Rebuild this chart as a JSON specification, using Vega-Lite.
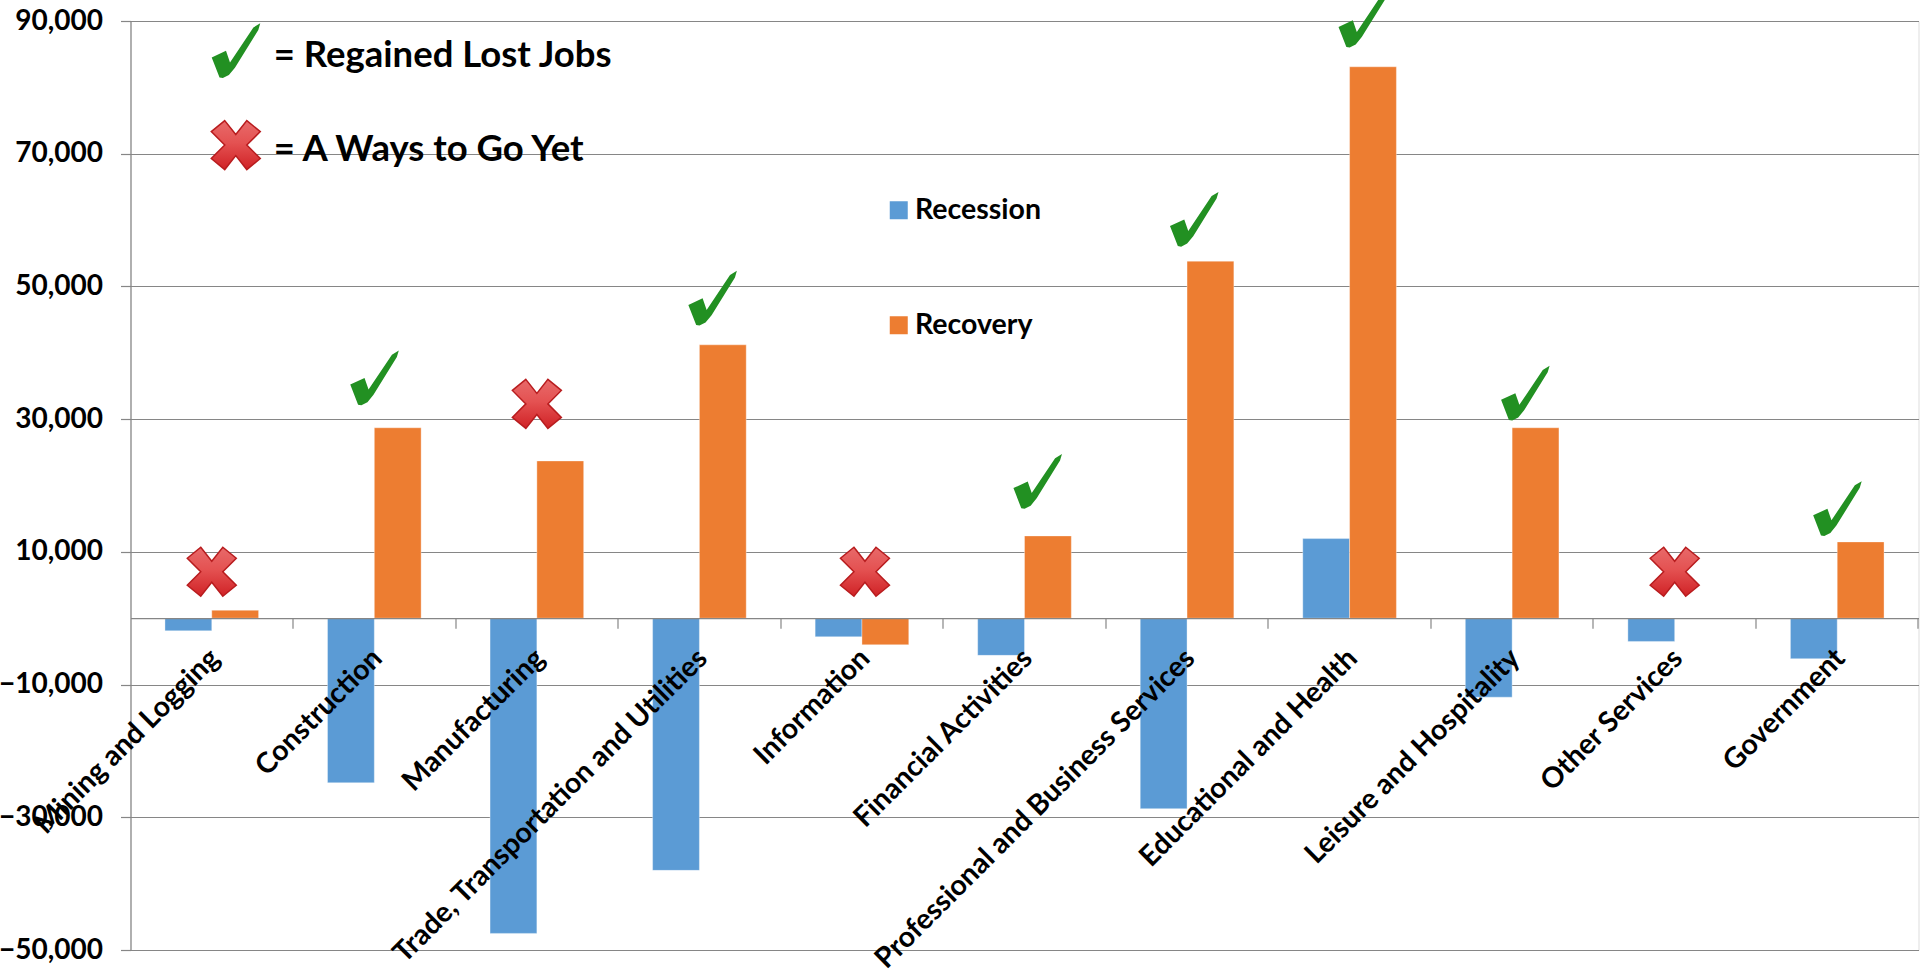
{
"$schema":"https://vega.github.io/schema/vega-lite/v6.json",
"width":1788,"height":929,
"autosize":{"type":"none"},
"padding":{"left":130.5,"top":21,"right":11.5,"bottom":23},
"background":"white",
"datasets":{
"bars":[
{"category":"Mining and Logging","series":"Recession","jobs":-1900},{"category":"Mining and Logging","series":"Recovery","jobs":1200},
{"category":"Construction","series":"Recession","jobs":-24800},{"category":"Construction","series":"Recovery","jobs":28700},
{"category":"Manufacturing","series":"Recession","jobs":-47500},{"category":"Manufacturing","series":"Recovery","jobs":23700},
{"category":"Trade, Transportation and Utilities","series":"Recession","jobs":-38000},{"category":"Trade, Transportation and Utilities","series":"Recovery","jobs":41200},
{"category":"Information","series":"Recession","jobs":-2800},{"category":"Information","series":"Recovery","jobs":-4000},
{"category":"Financial Activities","series":"Recession","jobs":-5600},{"category":"Financial Activities","series":"Recovery","jobs":12400},
{"category":"Professional and Business Services","series":"Recession","jobs":-28700},{"category":"Professional and Business Services","series":"Recovery","jobs":53800},
{"category":"Educational and Health","series":"Recession","jobs":12000},{"category":"Educational and Health","series":"Recovery","jobs":83100},
{"category":"Leisure and Hospitality","series":"Recession","jobs":-11900},{"category":"Leisure and Hospitality","series":"Recovery","jobs":28700},
{"category":"Other Services","series":"Recession","jobs":-3500},{"category":"Other Services","series":"Recovery","jobs":0},
{"category":"Government","series":"Recession","jobs":-6100},{"category":"Government","series":"Recovery","jobs":11500}
],
"markers":[
{"category":"Mining and Logging","level":7000,"status":"behind"},
{"category":"Construction","level":36200,"status":"regained"},
{"category":"Manufacturing","level":32300,"status":"behind"},
{"category":"Trade, Transportation and Utilities","level":48200,"status":"regained"},
{"category":"Information","level":7000,"status":"behind"},
{"category":"Financial Activities","level":20600,"status":"regained"},
{"category":"Professional and Business Services","level":60100,"status":"regained"},
{"category":"Educational and Health","level":90100,"status":"regained"},
{"category":"Leisure and Hospitality","level":33900,"status":"regained"},
{"category":"Other Services","level":7000,"status":"behind"},
{"category":"Government","level":16500,"status":"regained"}
],
"key":[
{"category":"Mining and Logging","level":85500,"status":"regained","label":"= Regained Lost Jobs"},
{"category":"Mining and Logging","level":71300,"status":"behind","label":"= A Ways to Go Yet"}
]
},
"encoding":{
"x":{"field":"category","type":"nominal","sort":null,"title":null,
"scale":{"domain":["Mining and Logging","Construction","Manufacturing","Trade, Transportation and Utilities","Information","Financial Activities","Professional and Business Services","Educational and Health","Leisure and Hospitality","Other Services","Government"],"paddingInner":0.424,"paddingOuter":0.212},
"axis":{"orient":"bottom","offset":-331.8,"zindex":1,"bandPosition":1.368,"tickSize":10,"tickColor":"#868686","tickWidth":1.2,"domainColor":"#868686","domainWidth":1.2,"labelAngle":-45,"labelAlign":"right","labelBaseline":"middle","labelPadding":25,"labelOffset":3,"labelFont":"Lato","labelFontWeight":"bold","labelFontSize":28.5,"labelColor":"#000000","labelLimit":1000,"labelOverlap":false,"labelBound":false,"labelFlush":false}},
"y":{"type":"quantitative","title":null,
"scale":{"domain":[-50000,90000],"nice":false,"zero":false},
"axis":{"values":[-50000,-30000,-10000,10000,30000,50000,70000,90000],"labelExpr":"format(datum.value, ',')","grid":true,"gridColor":"#868686","gridWidth":1.2,"domainColor":"#868686","domainWidth":1.2,"tickColor":"#868686","tickWidth":1.2,"tickSize":10,"labelPadding":18,"labelFont":"Lato","labelFontWeight":"bold","labelFontSize":28,"labelColor":"#000000"}}
},
"layer":[
{"data":{"name":"bars"},"mark":{"type":"bar","stroke":"#ffffff","strokeOpacity":0.35,"strokeWidth":1},
"encoding":{
"y":{"field":"jobs","type":"quantitative"},
"xOffset":{"field":"series","type":"nominal","sort":["Recession","Recovery"]},
"color":{"field":"series","type":"nominal","scale":{"domain":["Recession","Recovery"],"range":["#5B9BD5","#ED7D31"]},
"legend":{"title":null,"orient":"none","legendX":754,"legendY":175,"direction":"vertical","symbolType":"square","symbolSize":324,"symbolStrokeWidth":0,"symbolOpacity":1,"labelFont":"Lato","labelFontWeight":"bold","labelFontSize":28.5,"labelColor":"#000000","labelOffset":2,"rowPadding":86}}
}},
{"data":{"name":"markers"},"transform":[{"filter":"datum.status==='regained' && (datum.category==='Construction' || datum.category==='Government')"}],
"mark":{"type":"point","filled":true,"size":3025,"opacity":1,"xOffset":0,"color":"#229022","shape":"M-0.875,0.24 L-0.356,0 L-0.21,0.42 L0.64,-0.85 L0.89,-1 L0.82,-0.76 L-0.03,0.61 L-0.25,0.88 L-0.47,0.99 L-0.59,0.97 Z"},
"encoding":{"y":{"field":"level","type":"quantitative"}}},
{"data":{"name":"markers"},"transform":[{"filter":"datum.status==='regained' && datum.category==='Professional and Business Services'"}],
"mark":{"type":"point","filled":true,"size":3025,"opacity":1,"xOffset":7,"color":"#229022","shape":"M-0.875,0.24 L-0.356,0 L-0.21,0.42 L0.64,-0.85 L0.89,-1 L0.82,-0.76 L-0.03,0.61 L-0.25,0.88 L-0.47,0.99 L-0.59,0.97 Z"},
"encoding":{"y":{"field":"level","type":"quantitative"}}},
{"data":{"name":"markers"},"transform":[{"filter":"datum.status==='regained' && datum.category!=='Construction' && datum.category!=='Government' && datum.category!=='Professional and Business Services'"}],
"mark":{"type":"point","filled":true,"size":3025,"opacity":1,"xOffset":13,"color":"#229022","shape":"M-0.875,0.24 L-0.356,0 L-0.21,0.42 L0.64,-0.85 L0.89,-1 L0.82,-0.76 L-0.03,0.61 L-0.25,0.88 L-0.47,0.99 L-0.59,0.97 Z"},
"encoding":{"y":{"field":"level","type":"quantitative"}}},
{"data":{"name":"markers"},"transform":[{"filter":"datum.status==='behind' && datum.category!=='Information'"}],
"mark":{"type":"point","filled":true,"size":2400,"opacity":1,"xOffset":0,"stroke":"#b81c1e","strokeWidth":1.5,"fill":{"gradient":"linear","x1":0,"y1":0,"x2":0,"y2":1,"stops":[{"offset":0,"color":"#e86a6a"},{"offset":0.45,"color":"#e45252"},{"offset":1,"color":"#d02226"}]},"shape":"M-0.45,-1 L0,-0.43 L0.45,-1 L1,-0.55 L0.45,0 L1,0.55 L0.45,1 L0,0.43 L-0.45,1 L-1,0.55 L-0.45,0 L-1,-0.55 Z"},
"encoding":{"y":{"field":"level","type":"quantitative"}}},
{"data":{"name":"markers"},"transform":[{"filter":"datum.category==='Information'"}],
"mark":{"type":"point","filled":true,"size":2400,"opacity":1,"xOffset":3,"stroke":"#b81c1e","strokeWidth":1.5,"fill":{"gradient":"linear","x1":0,"y1":0,"x2":0,"y2":1,"stops":[{"offset":0,"color":"#e86a6a"},{"offset":0.45,"color":"#e45252"},{"offset":1,"color":"#d02226"}]},"shape":"M-0.45,-1 L0,-0.43 L0.45,-1 L1,-0.55 L0.45,0 L1,0.55 L0.45,1 L0,0.43 L-0.45,1 L-1,0.55 L-0.45,0 L-1,-0.55 Z"},
"encoding":{"y":{"field":"level","type":"quantitative"}}},
{"data":{"name":"key"},"transform":[{"filter":"datum.status==='regained'"}],
"mark":{"type":"point","filled":true,"size":3025,"opacity":1,"xOffset":24,"color":"#229022","shape":"M-0.875,0.24 L-0.356,0 L-0.21,0.42 L0.64,-0.85 L0.89,-1 L0.82,-0.76 L-0.03,0.61 L-0.25,0.88 L-0.47,0.99 L-0.59,0.97 Z"},
"encoding":{"y":{"field":"level","type":"quantitative"}}},
{"data":{"name":"key"},"transform":[{"filter":"datum.status==='behind'"}],
"mark":{"type":"point","filled":true,"size":2400,"opacity":1,"xOffset":24,"stroke":"#b81c1e","strokeWidth":1.5,"fill":{"gradient":"linear","x1":0,"y1":0,"x2":0,"y2":1,"stops":[{"offset":0,"color":"#e86a6a"},{"offset":0.45,"color":"#e45252"},{"offset":1,"color":"#d02226"}]},"shape":"M-0.45,-1 L0,-0.43 L0.45,-1 L1,-0.55 L0.45,0 L1,0.55 L0.45,1 L0,0.43 L-0.45,1 L-1,0.55 L-0.45,0 L-1,-0.55 Z"},
"encoding":{"y":{"field":"level","type":"quantitative"}}},
{"data":{"name":"key"},
"mark":{"type":"text","align":"left","baseline":"middle","xOffset":62,"dy":5,"font":"Lato","fontWeight":"bold","fontSize":36.5,"color":"#000000"},
"encoding":{"y":{"field":"level","type":"quantitative"},"text":{"field":"label","type":"nominal"}}}
]
}
